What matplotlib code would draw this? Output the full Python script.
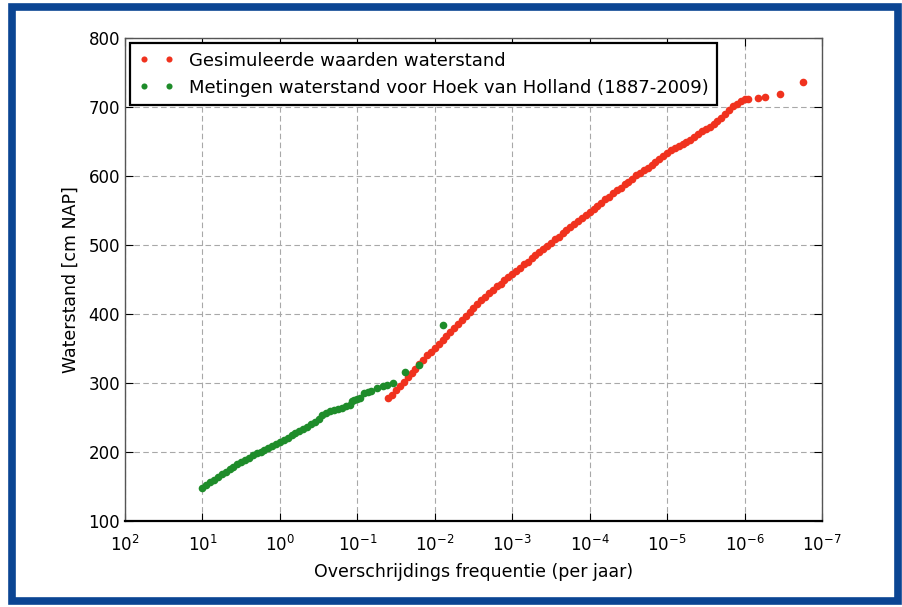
import numpy as np
import matplotlib
matplotlib.use("Agg")
import matplotlib.pyplot as plt
from matplotlib.patches import Rectangle

# ---- data (log10 of exceedance frequency per year, water level cm NAP) ----
sim_log10_freq = [-1.40, -1.45, -1.50, -1.55, -1.60, -1.65, -1.70, -1.75, -1.80, -1.85,
                  -1.90, -1.95, -2.00, -2.05, -2.10, -2.15, -2.20, -2.25, -2.30, -2.35,
                  -2.40, -2.45, -2.50, -2.55, -2.60, -2.65, -2.70, -2.75, -2.80, -2.85,
                  -2.90, -2.95, -3.00, -3.05, -3.10, -3.15, -3.20, -3.25, -3.30, -3.35,
                  -3.40, -3.45, -3.50, -3.55, -3.60, -3.65, -3.70, -3.75, -3.80, -3.85,
                  -3.90, -3.95, -4.00, -4.05, -4.10, -4.15, -4.20, -4.25, -4.30, -4.35,
                  -4.40, -4.45, -4.50, -4.55, -4.60, -4.65, -4.70, -4.75, -4.80, -4.85,
                  -4.90, -4.95, -5.00, -5.05, -5.10, -5.15, -5.20, -5.25, -5.30, -5.35,
                  -5.40, -5.45, -5.50, -5.55, -5.60, -5.65, -5.70, -5.75, -5.80, -5.85,
                  -5.90, -5.95, -6.00, -6.05, -6.17, -6.27, -6.46, -6.76]
sim_level = [278, 283, 290, 296, 302, 309, 315, 321, 327, 334,
             340, 345, 351, 357, 363, 368, 374, 380, 385, 391,
             397, 403, 409, 414, 420, 425, 430, 435, 440, 444,
             449, 454, 458, 463, 467, 472, 476, 481, 485, 490,
             494, 499, 503, 508, 512, 517, 522, 526, 530, 535,
             539, 543, 548, 552, 557, 561, 566, 570, 575, 579,
             583, 588, 592, 596, 601, 605, 608, 612, 616, 620,
             624, 629, 634, 638, 641, 644, 646, 649, 652, 657,
             661, 665, 668, 671, 676, 680, 684, 690, 696, 701,
             705, 708, 711, 712, 713, 714, 719, 736]

obs_log10_freq = [1.00, 0.95, 0.90, 0.85, 0.80, 0.75, 0.70, 0.65, 0.60, 0.55,
                  0.50, 0.45, 0.40, 0.35, 0.30, 0.25, 0.20, 0.15, 0.10, 0.05,
                  0.00, -0.05, -0.10, -0.15, -0.20, -0.25, -0.30, -0.35, -0.40, -0.45,
                  -0.50, -0.55, -0.60, -0.65, -0.70, -0.75, -0.80, -0.85, -0.90,
                  -0.93, -0.96, -1.00, -1.04, -1.09, -1.14, -1.18, -1.26, -1.33, -1.38,
                  -1.46, -1.62, -1.79, -2.10]
obs_level = [148, 152, 156, 160, 164, 168, 171, 175, 178, 182,
             185, 189, 192, 195, 198, 200, 203, 206, 209, 211,
             214, 218, 221, 224, 227, 230, 233, 236, 240, 244,
             248, 253, 257, 259, 261, 262, 264, 266, 268,
             274, 276, 277, 278, 285, 287, 288, 293, 296, 297,
             300, 316, 326, 384]

sim_label = "Gesimuleerde waarden waterstand"
obs_label = "Metingen waterstand voor Hoek van Holland (1887-2009)"
xlabel = "Overschrijdings frequentie (per jaar)"
ylabel = "Waterstand [cm NAP]"
yticks = [100, 200, 300, 400, 500, 600, 700, 800]
xtick_exponents = [2, 1, 0, -1, -2, -3, -4, -5, -6, -7]

plt.rcParams['font.family'] = ['DejaVu Sans']

fig = plt.figure(figsize=(9.03, 6.07), dpi=100)
fig.patch.set_facecolor('white')

# blue frame around the figure
fig.patches.append(Rectangle((12 / 903, 1 - 601 / 607), (898 - 12) / 903, (601 - 7) / 607,
                             transform=fig.transFigure, fill=False,
                             edgecolor='#0b4593', linewidth=5.5, zorder=0))

ax = fig.add_axes([125 / 903, 1 - 521 / 607, (822 - 125) / 903, (521 - 38) / 607])

sim_f = 10.0 ** np.array(sim_log10_freq)
obs_f = 10.0 ** np.array(obs_log10_freq)

ax.plot(sim_f, sim_level, linestyle='none', marker='o', markersize=5.5,
        markeredgewidth=0, color='#f0321e', label=sim_label, zorder=3)
ax.plot(obs_f, obs_level, linestyle='none', marker='o', markersize=5.5,
        markeredgewidth=0, color='#1e8c2a', label=obs_label, zorder=4)

ax.set_xscale('log')
ax.set_xlim(1e2, 1e-7)
ax.set_ylim(100, 800)
ax.set_xticks([10.0 ** e for e in xtick_exponents])
ax.set_xticklabels([r'$10^{%d}$' % e for e in xtick_exponents])
ax.set_yticks(yticks)
ax.set_yticklabels([str(v) for v in yticks])

ax.grid(True, which='major', color='#a8a8a8', linestyle=(0, (5, 3)), linewidth=0.8)
ax.tick_params(which='both', direction='in', top=True, right=True, labelsize=12)
ax.tick_params(which='major', length=6)
ax.tick_params(which='minor', length=3)
ax.tick_params(axis='x', pad=10)

for s in ax.spines.values():
    s.set_linewidth(1.0)
    s.set_color('#555555')
ax.spines['bottom'].set_color('black')
ax.spines['bottom'].set_linewidth(1.6)

ax.set_xlabel(xlabel, fontsize=12.5, labelpad=6)
ax.set_ylabel(ylabel, fontsize=12.5, labelpad=6)

leg = ax.legend(loc='upper left', numpoints=2, fontsize=13, fancybox=False,
                frameon=True, borderaxespad=0.3, handlelength=2.0,
                handletextpad=0.8, labelspacing=0.5, markerscale=0.8,
                borderpad=0.45)
leg.get_frame().set_edgecolor('black')
leg.get_frame().set_linewidth(1.6)
leg.get_frame().set_alpha(1.0)

fig.savefig('out.png', dpi=100, facecolor='white')
